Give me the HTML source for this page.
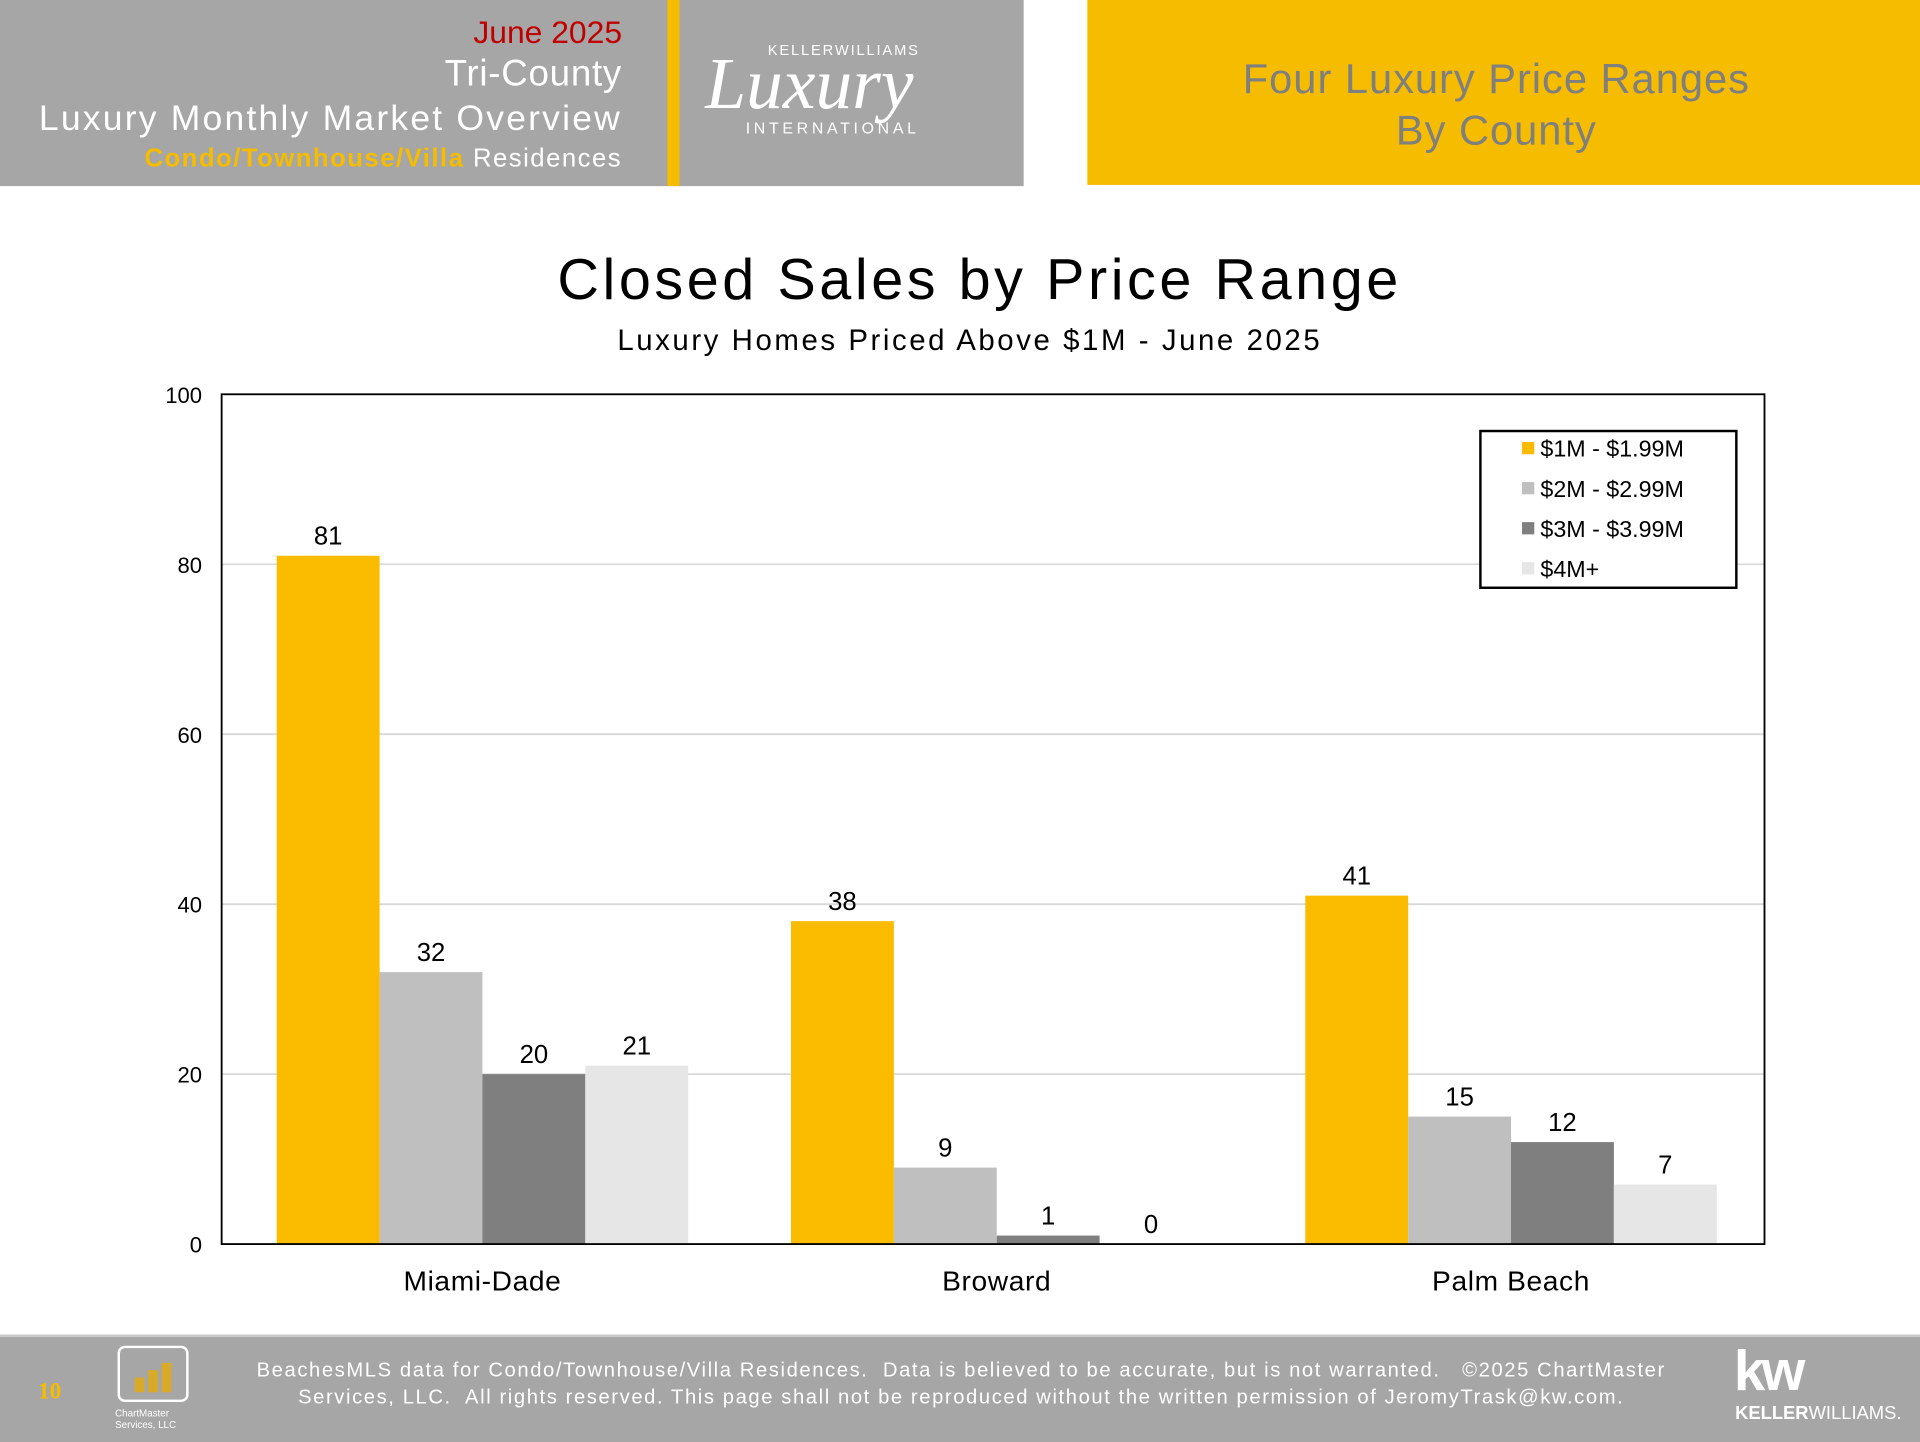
<!DOCTYPE html>
<html><head><meta charset="utf-8"><style>
html,body{margin:0;padding:0;background:#fff;overflow:hidden;}
#page{position:absolute;left:0;top:0;width:1568px;height:1176px;transform:scale(1.2244898);transform-origin:0 0;font-family:"Liberation Sans",sans-serif;}
.abs{position:absolute;white-space:nowrap;}
.r{text-align:right;}
</style></head><body>
<div id="page">
  <div class="abs" style="left:0;top:0;width:836px;height:152px;background:#a6a6a6;"></div>
  <div class="abs" style="left:545px;top:0;width:10px;height:152px;background:#f5bc00;"></div>
  <div class="abs r" style="right:1060px;top:11px;font-size:26px;color:#c00000;">June 2025</div>
  <div class="abs r" style="right:1060px;top:44px;font-size:30px;color:#fff;letter-spacing:0.6px;">Tri-County</div>
  <div class="abs r" style="right:1060px;top:81px;font-size:29px;color:#fff;letter-spacing:1.8px;">Luxury Monthly Market Overview</div>
  <div class="abs r" style="right:1060px;top:118px;font-size:21px;color:#fff;letter-spacing:1.2px;"><b style="color:#f5bc00">Condo/Townhouse/Villa</b> Residences</div>
  <div class="abs" style="left:627px;top:34px;font-size:12px;color:#fff;letter-spacing:1.5px;">KELLERWILLIAMS</div>
  <div class="abs" style="left:576px;top:34px;font-size:60px;color:#fff;font-family:'Liberation Serif',serif;font-style:italic;">Luxury</div>
  <div class="abs" style="left:609px;top:97px;font-size:13px;color:#fff;letter-spacing:3px;">INTERNATIONAL</div>
  <div class="abs" style="left:888px;top:0;width:680px;height:151px;background:#f5bc00;"></div>
  <div class="abs" style="left:888px;width:668px;top:44px;text-align:center;font-size:34px;line-height:42px;color:#7f7f7f;letter-spacing:0.8px;">Four Luxury Price Ranges<br>By County</div>

  <div class="abs" style="left:0;width:1600px;top:200px;text-align:center;font-size:47px;color:#000;letter-spacing:2.9px;">Closed Sales by Price Range</div>
  <div class="abs" style="left:0;width:1584px;top:265px;text-align:center;font-size:24px;color:#000;letter-spacing:2.1px;">Luxury Homes Priced Above $1M - June 2025</div>

  <svg id="chart" class="abs" style="left:0;top:0" width="1568" height="1176"></svg>

  <div class="abs" style="left:0;top:1090px;width:1568px;height:86px;background:#a6a6a6;border-top:2px solid #c8c8c8;"></div>
  <div class="abs" style="left:31px;top:1126px;font-size:19px;color:#f5bc00;font-family:'Liberation Serif',serif;font-weight:bold;">10</div>
  <div class="abs" style="left:96px;top:1099px;width:54px;height:42px;border:2px solid #fff;border-radius:6px;">
    <div style="position:absolute;left:12px;bottom:6px;width:8px;height:12px;background:#d9a92a"></div>
    <div style="position:absolute;left:23px;bottom:6px;width:8px;height:18px;background:#d9a92a"></div>
    <div style="position:absolute;left:34px;bottom:6px;width:8px;height:24px;background:#d9a92a"></div>
  </div>
  <div class="abs" style="left:94px;top:1150px;font-size:8px;color:#fff;line-height:9px;">ChartMaster<br>Services, LLC</div>
  <div class="abs" style="left:185px;width:1200px;top:1108px;text-align:center;font-size:16.5px;line-height:22px;color:#fff;letter-spacing:1.3px;">BeachesMLS data for Condo/Townhouse/Villa Residences.&nbsp; Data is believed to be accurate, but is not warranted.&nbsp;&nbsp; ©2025 ChartMaster<br>Services, LLC.&nbsp; All rights reserved. This page shall not be reproduced without the written permission of JeromyTrask@kw.com.</div>
  <div class="abs" style="left:1416px;top:1092px;font-size:46px;color:#fff;font-weight:bold;letter-spacing:-3px;">kw</div>
  <div class="abs" style="left:1417px;top:1146px;font-size:15px;color:#fff;"><b>KELLER</b>WILLIAMS.</div>
</div>
<script>
const categories = ["Miami-Dade","Broward","Palm Beach"];
const seriesNames = ["$1M - $1.99M","$2M - $2.99M","$3M - $3.99M","$4M+"];
const s1 = [81,38,41];
const s2 = [32,9,15];
const s3 = [20,1,12];
const s4 = [21,0,7];
const yTicks = [0,20,40,60,80,100];
const series = [s1,s2,s3,s4];
const colors = ["#fbbc00","#bfbfbf","#7f7f7f","#e6e6e6"];
const NS="http://www.w3.org/2000/svg";
const svg=document.getElementById('chart');
const L=181,R=1441,T=322,B=1016,yMax=100;
const y=v=>B-(v/yMax)*(B-T);
const gw=(R-L)/categories.length, bw=84;
const x=(ci,si)=>L+3+ci*gw+(gw-bw*series.length)/2+si*bw;
function mk(tag,attrs,txt){const e=document.createElementNS(NS,tag);for(const k in attrs)e.setAttribute(k,attrs[k]);if(txt!==undefined)e.textContent=txt;svg.appendChild(e);return e;}
yTicks.forEach(t=>{
  if(t>0&&t<yMax){const g=mk('line',{x1:L,x2:R,y1:y(t),y2:y(t),stroke:'#d9d9d9','stroke-width':1.5});
  
  }
  const lb=mk('text',{x:L-16,y:y(t)+7,'text-anchor':'end','font-size':18,fill:'#000','font-family':'Liberation Sans, sans-serif'},t);
  
  
});
series.forEach((s,si)=>s.forEach((v,ci)=>{
  const r=mk('rect',{x:x(ci,si),y:y(v),width:bw,height:B-y(v),fill:colors[si]});
  
  
  const tl=mk('text',{x:x(ci,si)+bw/2,y:y(v)-9,'text-anchor':'middle','font-size':21,fill:'#000','font-family':'Liberation Sans, sans-serif'},v);
  
  
}));
categories.forEach((c,ci)=>{
  const t=mk('text',{x:L+3+ci*gw+gw/2,y:B+38,'text-anchor':'middle','font-size':23,fill:'#000','font-family':'Liberation Sans, sans-serif','letter-spacing':0.5},c);
  
  
});
const frame=mk('rect',{x:L,y:T,width:R-L,height:B-T,fill:'none',stroke:'#000','stroke-width':1.5});


const lg=mk('rect',{x:1209,y:352,width:209,height:128,fill:'#fff',stroke:'#000','stroke-width':2});


seriesNames.forEach((n,i)=>{
  const ly=366+i*32.7;
  const sq=mk('rect',{x:1243,y:ly-5,width:10,height:10,fill:colors[i]});
  
  
  const tx=mk('text',{x:1258,y:ly+7,'font-size':19,fill:'#000','font-family':'Liberation Sans, sans-serif'},n);
  
  
});
</script>
</body></html>
